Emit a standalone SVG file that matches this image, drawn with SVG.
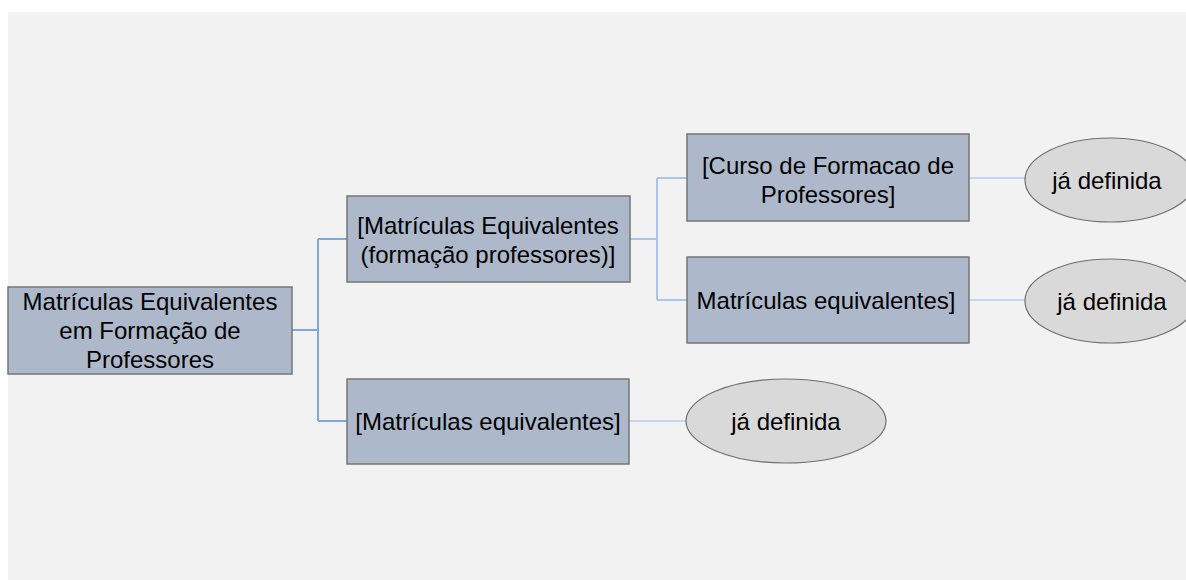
<svg xmlns="http://www.w3.org/2000/svg" width="1186" height="580" viewBox="0 0 1186 580">
<style>
.box{fill:#adb9ca;stroke:#767676;stroke-width:1.5}
.ell{fill:#d9d9d9;stroke:#6f6f6f;stroke-width:1.2}
.t{font-family:"Liberation Sans",Arial,sans-serif;font-size:24px;fill:#000;text-anchor:middle;dominant-baseline:central}
.c1{fill:none;stroke:#7ea9dc;stroke-width:2}
.c2{fill:none;stroke:#a9c5ea;stroke-width:2}
.c3{fill:none;stroke:#c6d6ec;stroke-width:2}
</style>
<rect x="0" y="0" width="1186" height="580" fill="#ffffff"/>
<rect x="8" y="12" width="1178" height="568" fill="#f2f2f2"/>
<g id="connectors">
<path class="c1" d="M292,330 H318 M318,239 V421 M318,239 H347 M318,421 H347"/>
<path class="c2" d="M630,239 H657 M657,178 V300 M657,178 H687 M657,300 H687"/>
<path class="c3" d="M969,178 H1025 M969,300 H1025 M629,421 H686"/>
</g>
<g id="root">
<rect class="box" x="8" y="287" width="284" height="87"/>
<text class="t" x="150" y="301">Matrículas Equivalentes</text>
<text class="t" x="150" y="330">em Formação de</text>
<text class="t" x="150" y="359">Professores</text>
</g>
<g id="nodeA">
<rect class="box" x="347" y="196" width="283" height="86"/>
<text class="t" x="488" y="225">[Matrículas Equivalentes</text>
<text class="t" x="488" y="254">(formação professores)]</text>
</g>
<g id="nodeB">
<rect class="box" x="347" y="379" width="282" height="85"/>
<text class="t" x="488" y="421">[Matrículas equivalentes]</text>
</g>
<g id="nodeC">
<rect class="box" x="687" y="134" width="282" height="87"/>
<text class="t" x="828" y="165">[Curso de Formacao de</text>
<text class="t" x="828" y="194">Professores]</text>
</g>
<g id="nodeD">
<rect class="box" x="687" y="257" width="282" height="86"/>
<text class="t" x="826" y="300">Matrículas equivalentes]</text>
</g>
<g id="ellC">
<ellipse class="ell" cx="1110" cy="180" rx="85" ry="42"/>
<text class="t" x="1107" y="180">já definida</text>
</g>
<g id="ellD">
<ellipse class="ell" cx="1110" cy="301" rx="85" ry="42"/>
<text class="t" x="1112" y="301">já definida</text>
</g>
<g id="ellB">
<ellipse class="ell" cx="786" cy="421" rx="100" ry="42"/>
<text class="t" x="786" y="421">já definida</text>
</g>
</svg>
